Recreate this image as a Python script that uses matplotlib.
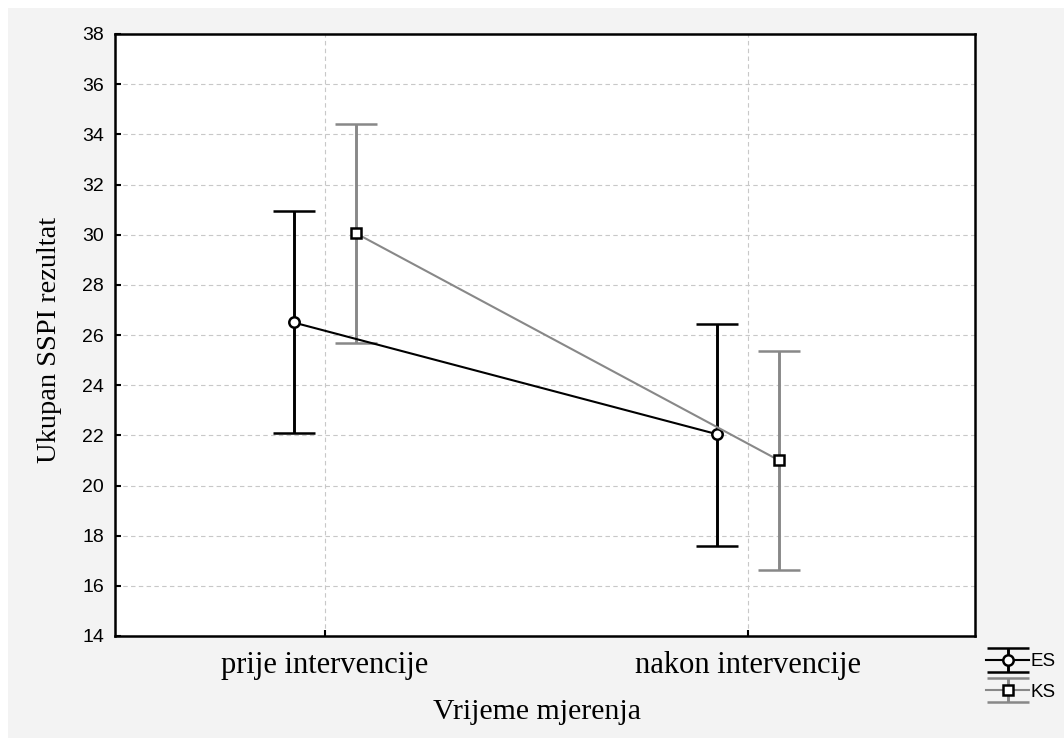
import matplotlib.pyplot as plt
import numpy as np
from matplotlib.patches import Rectangle
from matplotlib.legend_handler import HandlerErrorbar

# Srednje vrijednosti i granice intervala (donja, gornja)
vremena = ["prije intervencije", "nakon intervencije"]
es_mean = [26.5, 22.05]
es_low = [22.1, 17.6]
es_high = [30.95, 26.45]
ks_mean = [30.05, 21.0]
ks_low = [25.7, 16.65]
ks_high = [34.4, 25.35]

W, H = 1064, 738
fig = plt.figure(figsize=(W / 100, H / 100), dpi=100, facecolor="white")
fig.patches.append(Rectangle((8 / W, 0), 1, 1 - 8 / H, transform=fig.transFigure,
                             facecolor="#f3f3f3", edgecolor="none", zorder=-10))

ax = fig.add_axes([115 / W, 1 - 636 / H, 860 / W, 602 / H])
ax.set_facecolor("white")

x = np.arange(len(vremena))
dx = 0.074

def crtaj(pos, mean, low, high, boja, marker, label):
    mean = np.asarray(mean)
    yerr = [mean - np.asarray(low), np.asarray(high) - mean]
    return ax.errorbar(pos, mean, yerr=yerr, color=boja, ecolor=boja, lw=1.5,
                       elinewidth=2.1, capsize=15, capthick=2.1, marker=marker,
                       markersize=7.5, markerfacecolor="white", markeredgecolor="black",
                       markeredgewidth=1.8, label=label, zorder=3)

h_es = crtaj(x - dx, es_mean, es_low, es_high, "black", "o", "ES")
h_ks = crtaj(x + dx, ks_mean, ks_low, ks_high, "#888888", "s", "KS")

ax.set_ylim(14, 38)
ax.set_yticks(np.arange(14, 39, 2))
ax.set_xlim(-0.496, 1.537)
ax.set_xticks(x)
ax.set_xticklabels(vremena, fontfamily="Liberation Serif", fontsize=22)
for lbl in ax.get_yticklabels():
    lbl.set_fontfamily("Liberation Sans")
    lbl.set_fontsize(14)

ax.grid(True, ls=(0, (4, 3)), color="#c8c8c8", lw=0.8)
ax.set_axisbelow(True)
ax.tick_params(axis="both", length=4, width=1.5, direction="in")
ax.tick_params(axis="x", pad=11)
ax.tick_params(axis="y", pad=8)
for s in ax.spines.values():
    s.set_linewidth(1.8)

ax.set_xlabel("Vrijeme mjerenja", fontfamily="Liberation Serif", fontsize=21.5)
ax.set_ylabel("Ukupan SSPI rezultat", fontfamily="Liberation Serif", fontsize=20.5)
ax.xaxis.set_label_coords((537 - 115) / 860, -(699 - 636) / 602)
ax.yaxis.set_label_coords(-(115 - 62) / 860, 1 - (340 - 34) / 602)

leg = fig.legend(handles=[h_es, h_ks], loc="center left",
                 bbox_to_anchor=(986 / W, 1 - 677 / H), frameon=False,
                 handlelength=2.3, handletextpad=0.05, labelspacing=0.72,
                 borderpad=0, borderaxespad=0,
                 handler_map={type(h_es): HandlerErrorbar(yerr_size=0.64)},
                 prop={"family": "Liberation Sans", "size": 13.5})

fig.savefig("out.png", dpi=100, facecolor=fig.get_facecolor())
